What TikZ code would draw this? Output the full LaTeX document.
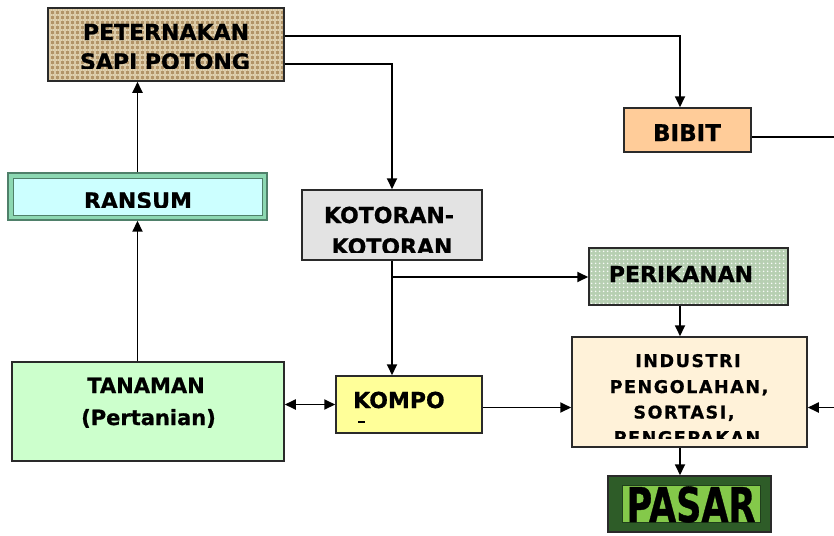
\documentclass[tikz,border=0pt]{standalone}
\usepackage{fontspec}
\setmainfont{DejaVu Sans}[BoldFeatures={FakeBold=0.8}]
\newfontfamily\spacedfont{DejaVu Sans}[LetterSpace=9,BoldFeatures={FakeBold=0.8}]
\usetikzlibrary{arrows.meta,patterns.meta}

\definecolor{burlap}{HTML}{B29468}
\definecolor{burlapthread}{HTML}{E2D4B2}
\definecolor{ransumfill}{HTML}{CCFFFF}
\definecolor{ransumline}{HTML}{4F806A}
\definecolor{ransumband}{HTML}{8CD8B2}
\definecolor{manure}{HTML}{E3E3E3}
\definecolor{seedfill}{HTML}{FFCC99}
\definecolor{fishfill}{HTML}{B7CFB2}
\definecolor{industryfill}{HTML}{FFF2D9}
\definecolor{marketdark}{HTML}{2E5C28}
\definecolor{marketlight}{HTML}{84C94A}
\definecolor{cropfill}{HTML}{CCFFCC}
\definecolor{compostfill}{HTML}{FFFF99}
\definecolor{edge}{HTML}{2A2A2A}

\tikzset{
  box/.style={draw=edge, line width=1.5pt, inner sep=0pt},
  label/.style={font=\fontsize{22}{26}\bfseries, inner sep=0pt, anchor=base},
  smalllabel/.style={font=\fontsize{17.5}{20}\spacedfont\bfseries, inner sep=0pt, anchor=base},
  arr/.style={line width=1.8pt, draw=black, -{Triangle[length=11pt,width=10pt]}},
  dblarr/.style={line width=1.8pt, draw=black, {Triangle[length=11pt,width=10pt]}-{Triangle[length=11pt,width=10pt]}},
  plain/.style={line width=1.8pt, draw=black}
}

\begin{document}
\begin{tikzpicture}[x=1pt,y=-1pt]
\useasboundingbox (0,0) rectangle (834,535);

% ---- boxes ----
\node[box, minimum width=236pt, minimum height=73pt,
      preaction={fill=burlap},
      postaction={pattern={Lines[angle=0,distance=5pt,line width=1.8pt]}, pattern color=burlapthread},
      postaction={pattern={Lines[angle=90,distance=5pt,line width=1.8pt]}, pattern color=burlapthread!85!burlap},
      postaction={draw=edge, line width=1.5pt}]
  (pet) at (166,44.5) {};

\node[draw=ransumline, line width=1.4pt, fill=ransumband, minimum width=259pt, minimum height=47pt, inner sep=0pt]
  (ran) at (137.5,196.5) {};
\node[draw=ransumline, line width=1pt, fill=ransumfill, minimum width=249pt, minimum height=37pt, inner sep=0pt]
  (raninner) at (137.5,196.5) {};

\node[box, fill=manure, minimum width=180pt, minimum height=70pt] (kot) at (392,225) {};
\node[box, fill=seedfill, minimum width=127pt, minimum height=44pt] (bib) at (687.5,130) {};

\node[box, minimum width=199pt, minimum height=57pt,
      preaction={fill=fishfill},
      pattern={Dots[distance=4pt,radius=1pt]}, pattern color=white!90!fishfill]
  (per) at (688.5,276.5) {};

\node[box, fill=industryfill, minimum width=235pt, minimum height=110pt] (ind) at (689.5,392) {};

\node[box, fill=marketdark, minimum width=163pt, minimum height=56pt] (pas) at (689.5,504) {};
\node[fill=marketlight, draw=marketdark!70!black, line width=0.6pt, minimum width=138pt, minimum height=37pt, inner sep=0pt]
  (pashl) at (691,503.5) {};

\node[box, fill=cropfill, minimum width=272pt, minimum height=99pt] (tan) at (148,411.5) {};
\node[box, fill=compostfill, minimum width=146pt, minimum height=57pt] (kom) at (409,404.5) {};

% ---- labels ----
\node[label] (pet1) at (166,40) {PETERNAKAN};
\begin{scope}
  \clip (50,50) rectangle (282,68);
  \node[label] (pet2) at (165,69.5) {SAPI POTONG};
\end{scope}

\begin{scope}
  \clip (15,180) rectangle (260,207);
  \node[label] (ran1) at (138,208.5) {RANSUM};
\end{scope}

\node[label] (kot1) at (389,223) {KOTORAN-};
\begin{scope}
  \clip (304,230) rectangle (480,252);
  \node[label] (kot2) at (392,254.5) {KOTORAN};
\end{scope}

\node[label, font=\fontsize{23}{26}\bfseries] (bib1) at (687,141) {BIBIT};
\node[label] (per1) at (681,282) {PERIKANAN};

\node[smalllabel] (ind1) at (688,367) {INDUSTRI};
\node[smalllabel] (ind2) at (689,393) {PENGOLAHAN,};
\node[smalllabel] (ind3) at (684,418.5) {SORTASI,};
\begin{scope}
  \clip (574,420) rectangle (805,438);
  \node[smalllabel] (ind4) at (687,444) {PENGEPAKAN};
\end{scope}

\node[label, font=\fontsize{48}{50}\bfseries] (pas1) at (691,522) {\scalebox{0.73}[1]{PASAR}};

\node[label, font=\fontsize{21}{25}\bfseries] (tan1) at (146,393) {TANAMAN};
\node[label, font=\fontsize{21}{25}\bfseries] (tan2) at (148.5,425) {(Pertanian)};

\node[label, anchor=base west] (kom1) at (353,408) {KOMPO};
\draw[line width=1.8pt] (358,422) -- (365,422);

% ---- connectors ----
\coordinate (branch) at (392,277);
\coordinate (rightin) at (834,407.5);
\coordinate (rightout) at (834,137);

\draw[arr] ([yshift=-29pt]pet.north east) -| ([xshift=-7.5pt]bib.north);
\draw[arr] ([yshift=-57pt]pet.north east) -| (kot.north);
\draw[arr] (ran.north) -- (ran.north |- pet.south);
\draw[arr] (ran.south |- tan.north) -- (ran.south);
\draw[arr] (kot.south) -- (kot.south |- kom.north);
\draw[arr] (branch) -- (per.west |- branch);
\draw[arr] ([xshift=-8.5pt]per.south) -- ([xshift=-8.5pt]per.south |- ind.north);
\draw[arr] ([yshift=-3pt]kom.east) -- (ind.west |- rightin);
\draw[dblarr] (tan.east |- kom.west) -- (kom.west);
\draw[arr] (rightin) -- (ind.east |- rightin);
\draw[arr] ([xshift=-9.5pt]ind.south) -- ([xshift=-9.5pt]ind.south |- pas.north);
\draw[plain] ([yshift=-7pt]bib.east) -- (rightout);
\end{tikzpicture}
\end{document}
